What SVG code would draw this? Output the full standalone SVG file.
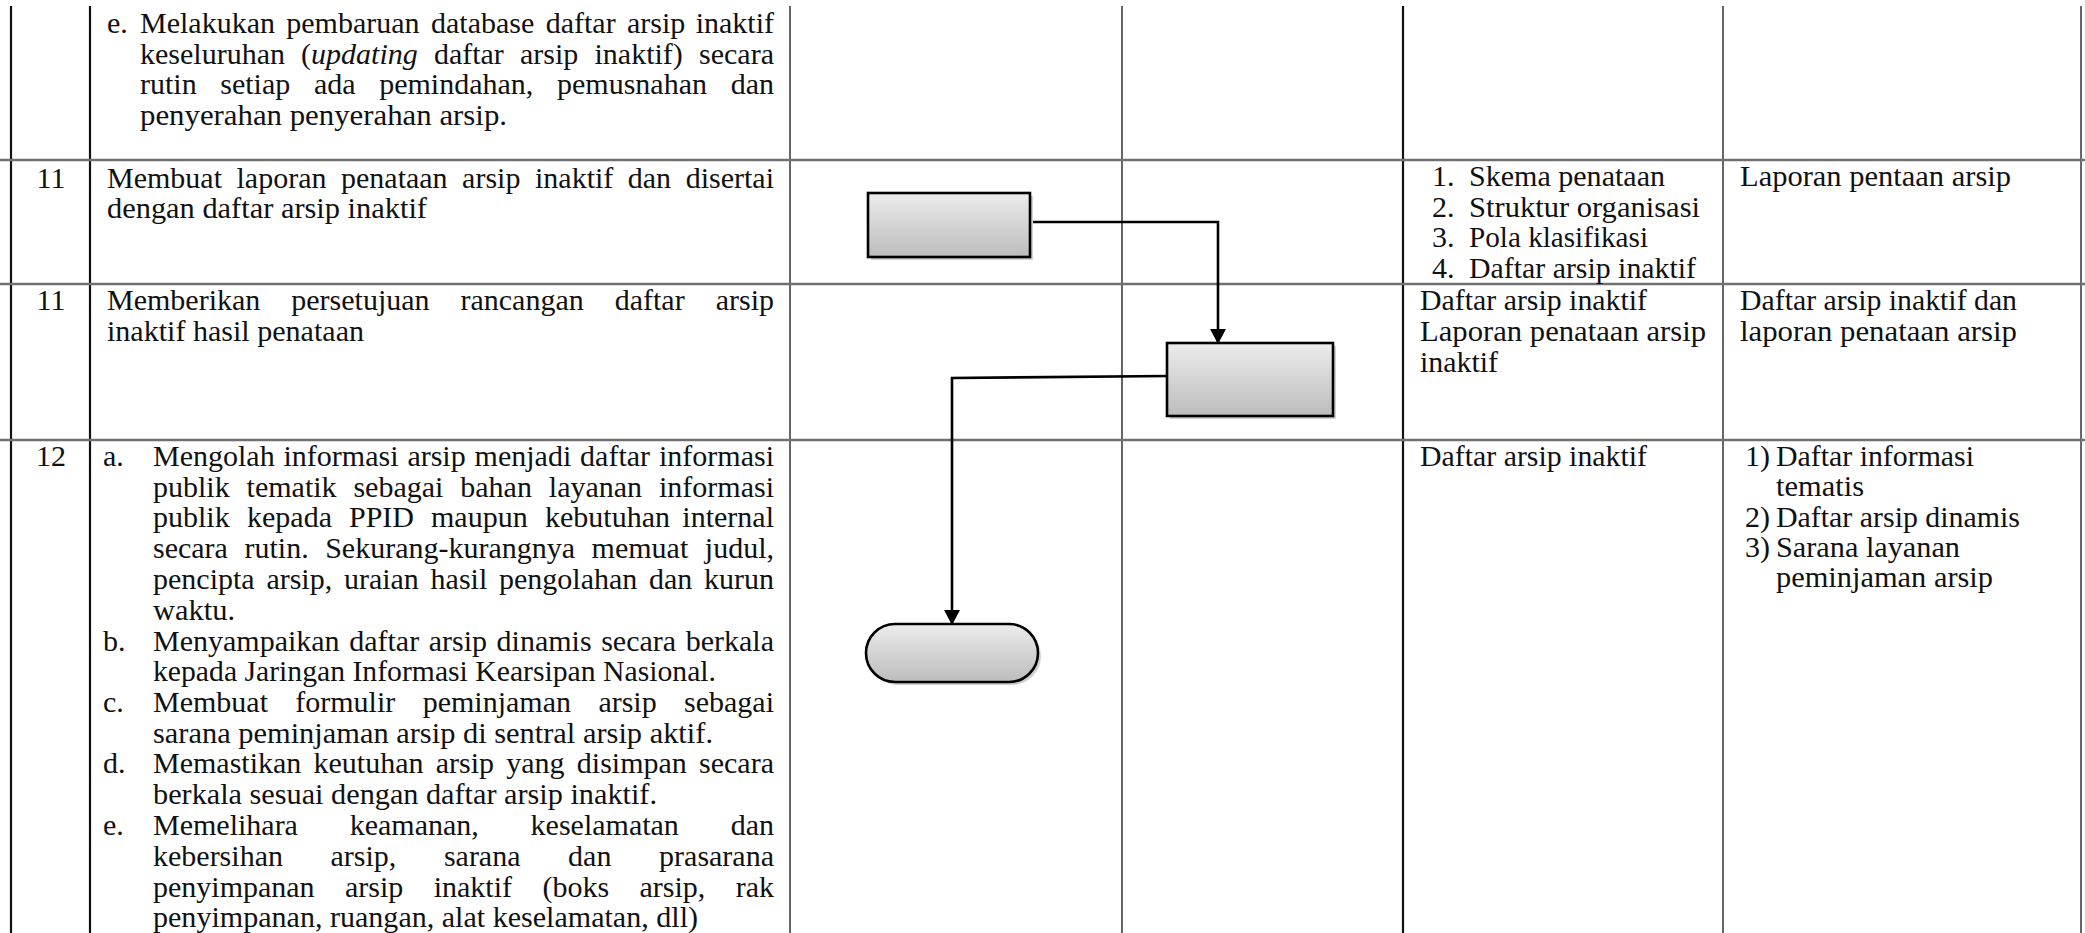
<svg xmlns="http://www.w3.org/2000/svg" width="2085" height="933" viewBox="0 0 2085 933">
<defs>
<linearGradient id="g" x1="0" y1="0" x2="0" y2="1"><stop offset="0" stop-color="#ececec"/><stop offset="1" stop-color="#bcbcbc"/></linearGradient>
<marker id="arr" markerUnits="userSpaceOnUse" markerWidth="18" markerHeight="16" refX="14" refY="8" orient="auto"><path d="M0,0 L15,8 L0,16 Z" fill="#000"/></marker>
<style>
text{font-family:"Liberation Serif","Times New Roman",serif;font-size:30px;fill:#111}
.e{text-anchor:end}
.hl{stroke:#707070;stroke-width:2.5}
.vl{stroke:#333;stroke-width:1.5}
.vt{stroke:#111;stroke-width:2.2}
.shape{fill:url(#g);stroke:#000;stroke-width:2.6}
.sh{fill:#999;opacity:.45}
.con{fill:none;stroke:#000;stroke-width:2.6}
</style>
</defs>
<rect width="2085" height="933" fill="#fff"/>
<g id="grid">
<line class="vt" x1="11" y1="6" x2="11" y2="933"/>
<line class="vt" x1="90" y1="6" x2="90" y2="933"/>
<line class="vl" x1="790" y1="6" x2="790" y2="933"/>
<line class="vl" x1="1122" y1="6" x2="1122" y2="933"/>
<line class="vt" x1="1403" y1="6" x2="1403" y2="933"/>
<line class="vl" x1="1723" y1="6" x2="1723" y2="933"/>
<line class="vl" x1="2081" y1="6" x2="2081" y2="933"/>
<line class="hl" x1="0" y1="160" x2="2085" y2="160"/>
<line class="hl" x1="0" y1="284" x2="2085" y2="284"/>
<line class="hl" x1="0" y1="440" x2="2085" y2="440"/>
</g>
<g id="row-prev">
<text x="107" y="33">e.</text>
<text y="33"><tspan x="140">Melakukan</tspan><tspan x="286.3">pembaruan</tspan><tspan x="431">database</tspan><tspan x="545.7">daftar</tspan><tspan x="627">arsip</tspan></text><text class="e" x="774" y="33">inaktif</text>
<text y="64"><tspan x="140">keseluruhan</tspan><tspan x="301.1">(</tspan><tspan font-style="italic">updating</tspan><tspan x="433.9">daftar</tspan><tspan x="520">arsip</tspan><tspan x="594.5">inaktif)</tspan></text><text class="e" x="774" y="64">secara</text>
<text y="94"><tspan x="140">rutin</tspan><tspan x="220.3">setiap</tspan><tspan x="313.9">ada</tspan><tspan x="379.2">pemindahan,</tspan><tspan x="557">pemusnahan</tspan></text><text class="e" x="774" y="94">dan</text>
<text x="140" y="125" textLength="367" lengthAdjust="spacingAndGlyphs">penyerahan penyerahan arsip.</text>
</g>
<g id="row-11a">
<text x="51" y="188" text-anchor="middle">11</text>
<text y="188"><tspan x="107">Membuat</tspan><tspan x="236.5">laporan</tspan><tspan x="341">penataan</tspan><tspan x="462.1">arsip</tspan><tspan x="535">inaktif</tspan><tspan x="627.8">dan</tspan></text><text class="e" x="774" y="188">disertai</text>
<text x="107" y="218" textLength="320" lengthAdjust="spacingAndGlyphs">dengan daftar arsip inaktif</text>
<text x="1432" y="186">1.</text><text x="1469" y="186" textLength="196" lengthAdjust="spacingAndGlyphs">Skema penataan</text>
<text x="1432" y="217">2.</text><text x="1469" y="217" textLength="231" lengthAdjust="spacingAndGlyphs">Struktur organisasi</text>
<text x="1432" y="247">3.</text><text x="1469" y="247" textLength="179" lengthAdjust="spacingAndGlyphs">Pola klasifikasi</text>
<text x="1432" y="278">4.</text><text x="1469" y="278" textLength="227" lengthAdjust="spacingAndGlyphs">Daftar arsip inaktif</text>
<text x="1740" y="186" textLength="271" lengthAdjust="spacingAndGlyphs">Laporan pentaan arsip</text>
</g>
<g id="row-11b">
<text x="51" y="310" text-anchor="middle">11</text>
<text y="310"><tspan x="107">Memberikan</tspan><tspan x="291.3">persetujuan</tspan><tspan x="460.5">rancangan</tspan><tspan x="614.7">daftar</tspan></text><text class="e" x="774" y="310">arsip</text>
<text x="107" y="341" textLength="257" lengthAdjust="spacingAndGlyphs">inaktif hasil penataan</text>
<text x="1420" y="310" textLength="227" lengthAdjust="spacingAndGlyphs">Daftar arsip inaktif</text>
<text x="1420" y="341" textLength="286" lengthAdjust="spacingAndGlyphs">Laporan penataan arsip</text>
<text x="1420" y="372" textLength="78" lengthAdjust="spacingAndGlyphs">inaktif</text>
<text x="1740" y="310" textLength="277" lengthAdjust="spacingAndGlyphs">Daftar arsip inaktif dan</text>
<text x="1740" y="341" textLength="277" lengthAdjust="spacingAndGlyphs">laporan penataan arsip</text>
</g>
<g id="row-12">
<text x="51" y="466" text-anchor="middle">12</text>
<text x="103" y="466">a.</text>
<text y="466"><tspan x="153">Mengolah</tspan><tspan x="283.5">informasi</tspan><tspan x="407.4">arsip</tspan><tspan x="474.6">menjadi</tspan><tspan x="580.1">daftar</tspan></text><text class="e" x="774" y="466">informasi</text>
<text y="497"><tspan x="153">publik</tspan><tspan x="246.6">tematik</tspan><tspan x="353.4">sebagai</tspan><tspan x="460.3">bahan</tspan><tspan x="548.8">layanan</tspan></text><text class="e" x="774" y="497">informasi</text>
<text y="527"><tspan x="153">publik</tspan><tspan x="247">kepada</tspan><tspan x="349">PPID</tspan><tspan x="431">maupun</tspan><tspan x="545">kebutuhan</tspan></text><text class="e" x="774" y="527">internal</text>
<text y="558"><tspan x="153">secara</tspan><tspan x="244.5">rutin.</tspan><tspan x="325.2">Sekurang-kurangnya</tspan><tspan x="591.6">memuat</tspan></text><text class="e" x="774" y="558">judul,</text>
<text y="589"><tspan x="153">pencipta</tspan><tspan x="266.4">arsip,</tspan><tspan x="343.9">uraian</tspan><tspan x="430.6">hasil</tspan><tspan x="499">pengolahan</tspan><tspan x="649">dan</tspan></text><text class="e" x="774" y="589">kurun</text>
<text x="153" y="620" textLength="82" lengthAdjust="spacingAndGlyphs">waktu.</text>
<text x="103" y="651">b.</text>
<text y="651"><tspan x="153">Menyampaikan</tspan><tspan x="349.2">daftar</tspan><tspan x="428.7">arsip</tspan><tspan x="496.6">dinamis</tspan><tspan x="601.2">secara</tspan></text><text class="e" x="774" y="651">berkala</text>
<text x="153" y="681" textLength="563" lengthAdjust="spacingAndGlyphs">kepada Jaringan Informasi Kearsipan Nasional.</text>
<text x="103" y="712">c.</text>
<text y="712"><tspan x="153">Membuat</tspan><tspan x="295.3">formulir</tspan><tspan x="422.7">peminjaman</tspan><tspan x="598.4">arsip</tspan></text><text class="e" x="774" y="712">sebagai</text>
<text x="153" y="743" textLength="560" lengthAdjust="spacingAndGlyphs">sarana peminjaman arsip di sentral arsip aktif.</text>
<text x="103" y="773">d.</text>
<text y="773"><tspan x="153">Memastikan</tspan><tspan x="313.5">keutuhan</tspan><tspan x="435.7">arsip</tspan><tspan x="506.3">yang</tspan><tspan x="576.8">disimpan</tspan></text><text class="e" x="774" y="773">secara</text>
<text x="153" y="804" textLength="504" lengthAdjust="spacingAndGlyphs">berkala sesuai dengan daftar arsip inaktif.</text>
<text x="103" y="835">e.</text>
<text y="835"><tspan x="153">Memelihara</tspan><tspan x="349.7">keamanan,</tspan><tspan x="530.6">keselamatan</tspan></text><text class="e" x="774" y="835">dan</text>
<text y="866"><tspan x="153">kebersihan</tspan><tspan x="330.5">arsip,</tspan><tspan x="443.9">sarana</tspan><tspan x="568.1">dan</tspan></text><text class="e" x="774" y="866">prasarana</text>
<text y="897"><tspan x="153">penyimpanan</tspan><tspan x="345">arsip</tspan><tspan x="433.7">inaktif</tspan><tspan x="542.4">(boks</tspan><tspan x="639.5">arsip,</tspan></text><text class="e" x="774" y="897">rak</text>
<text x="153" y="927" textLength="545" lengthAdjust="spacingAndGlyphs">penyimpanan, ruangan, alat keselamatan, dll)</text>
<text x="1420" y="466" textLength="227" lengthAdjust="spacingAndGlyphs">Daftar arsip inaktif</text>
<text x="1745" y="466">1)</text><text x="1776" y="466" textLength="198" lengthAdjust="spacingAndGlyphs">Daftar informasi</text>
<text x="1776" y="496" textLength="88" lengthAdjust="spacingAndGlyphs">tematis</text>
<text x="1745" y="527">2)</text><text x="1776" y="527" textLength="244" lengthAdjust="spacingAndGlyphs">Daftar arsip dinamis</text>
<text x="1745" y="557">3)</text><text x="1776" y="557" textLength="184" lengthAdjust="spacingAndGlyphs">Sarana layanan</text>
<text x="1776" y="587" textLength="217" lengthAdjust="spacingAndGlyphs">peminjaman arsip</text>
</g>
<g id="node-process-1">
<rect class="sh" x="871" y="196" width="162" height="64"/>
<rect class="shape" x="868" y="193" width="162" height="64"/>
</g>
<g id="node-process-2">
<rect class="sh" x="1170" y="346" width="166" height="73"/>
<rect class="shape" x="1167" y="343" width="166" height="73"/>
</g>
<g id="node-terminator">
<rect class="sh" x="869" y="627" width="172" height="58" rx="29"/>
<rect class="shape" x="866" y="624" width="172" height="58" rx="29"/>
</g>
<g id="connectors">
<path class="con" d="M1033,222 H1218 V343" marker-end="url(#arr)"/>
<path class="con" d="M1168,376 L952,378 V624" marker-end="url(#arr)"/>
</g>
</svg>
